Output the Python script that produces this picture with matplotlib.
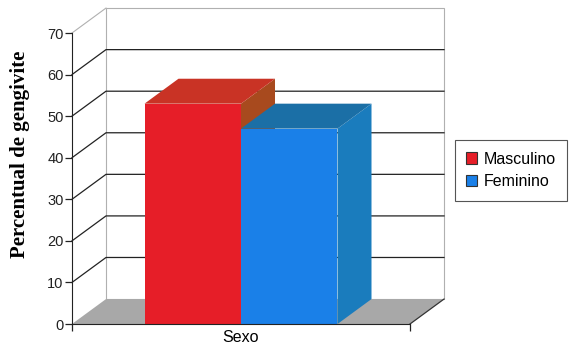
import matplotlib
matplotlib.use("Agg")
import matplotlib.pyplot as plt
from matplotlib.patches import Polygon, Patch

plt.rcParams['font.family'] = ['Liberation Sans', 'DejaVu Sans']

# data
category = "Sexo"
series_names = ["Masculino", "Feminino"]
values = [53, 47]
front_colors = ["#e61e28", "#1a80e8"]
top_colors = ["#c93325", "#1b6fa6"]
side_colors = ["#a84a1e", "#1a7cbd"]
y_max = 70
y_ticks = [0, 10, 20, 30, 40, 50, 60, 70]

# depth of the fake 3D box, in axis units
DX = 0.1006
DY = 6.0


def draw_bar(ax, x0, w, h, fc, tc, sc, z):
    front = Polygon([(x0, 0), (x0 + w, 0), (x0 + w, h), (x0, h)],
                    closed=True, fc=fc, ec="none", zorder=z, clip_on=False)
    top = Polygon([(x0, h), (x0 + w, h), (x0 + w + DX, h + DY), (x0 + DX, h + DY)],
                  closed=True, fc=tc, ec="none", zorder=z, clip_on=False)
    side = Polygon([(x0 + w, 0), (x0 + w + DX, DY), (x0 + w + DX, h + DY), (x0 + w, h)],
                   closed=True, fc=sc, ec="none", zorder=z, clip_on=False)
    for p in (side, top, front):
        ax.add_patch(p)


fig = plt.figure(figsize=(5.71, 3.47), dpi=100)
ax = fig.add_axes([72 / 571, 23 / 347, 338 / 571, 291 / 347])
ax.set_xlim(0, 1)
ax.set_ylim(0, y_max)
ax.patch.set_alpha(0)

# back wall
wall = Polygon([(DX, DY), (1 + DX, DY), (1 + DX, y_max + DY), (DX, y_max + DY)],
               closed=True, fc="white", ec="#b0b0b0", lw=0.8, zorder=0, clip_on=False)
ax.add_patch(wall)
ax.plot([0, DX], [y_max, y_max + DY], color="#b0b0b0", lw=0.8, zorder=1, clip_on=False)

# gridlines on side and back walls
for v in y_ticks[1:-1]:
    ax.plot([0, DX, 1 + DX], [v, v + DY, v + DY], color="#222222", lw=0.9,
            zorder=1, clip_on=False)

# floor
floor = Polygon([(0, 0), (1, 0), (1 + DX, DY), (DX, DY)], closed=True,
                fc="#a8a8a8", ec="none", zorder=2, clip_on=False)
ax.add_patch(floor)
ax.plot([1, 1 + DX], [0, DY], color="#333333", lw=0.9, zorder=2, clip_on=False)

# bars
n = len(values)
bar_w = 0.2855
start = 0.5 - n * bar_w / 2
for i, v in enumerate(values):
    draw_bar(ax, start + i * bar_w, bar_w, v, front_colors[i], top_colors[i],
             side_colors[i], 3 + i)

# axes
for s in ("top", "right"):
    ax.spines[s].set_visible(False)
ax.spines["left"].set_color("#222222")
ax.spines["bottom"].set_color("#222222")
ax.spines["left"].set_zorder(10)
ax.spines["bottom"].set_zorder(10)
ax.set_yticks(y_ticks)
ax.tick_params(axis="y", length=5, width=0.9, labelsize=10.5, pad=1, colors="#222222")
ax.set_xticks([0.5])
ax.set_xticklabels([category])
ax.set_xticks([0, 1], minor=True)
ax.tick_params(axis="x", which="major", length=0, labelsize=11.5, pad=4)
ax.tick_params(axis="x", which="minor", length=5, width=0.9, colors="#222222")

fig.text(20 / 571, 1 - 154 / 347, "Percentual de gengivite", rotation=90,
         ha="center", va="center", fontsize=15, fontweight="bold",
         family=["Liberation Serif", "DejaVu Serif"])

handles = [Patch(fc=c, ec="#333333", lw=0.8) for c in front_colors]
leg = fig.legend(handles, series_names, loc="center left",
                 bbox_to_anchor=(455 / 571, 1 - 170.5 / 347), fontsize=11.5,
                 fancybox=False, framealpha=1, edgecolor="#555555",
                 handlelength=0.7, handleheight=0.7, handletextpad=0.4,
                 borderpad=0.7, labelspacing=0.5, borderaxespad=0)
leg.get_frame().set_linewidth(0.8)

plt.savefig("out.png", dpi=100)
